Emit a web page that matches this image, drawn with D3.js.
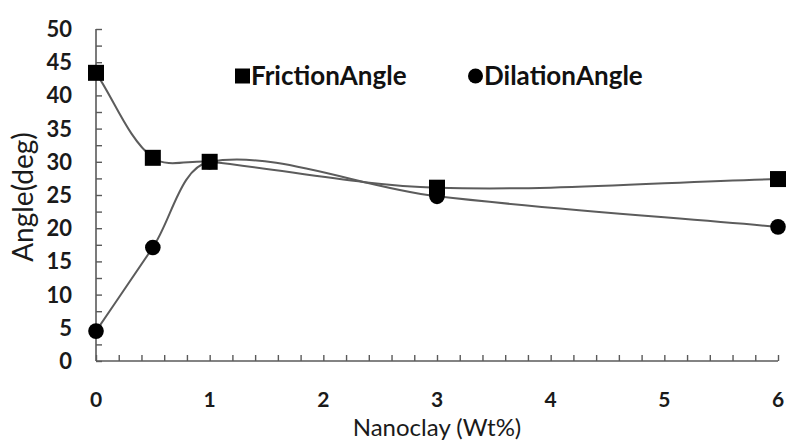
<!DOCTYPE html>
<html>
<head>
<meta charset="utf-8">
<script src="https://cdn.jsdelivr.net/npm/d3@7"></script>
<style>
  html, body { margin: 0; padding: 0; background: #fff; }
  svg { display: block; }
</style>
</head>
<body>
<svg id="chart" width="789" height="442"></svg>
<script>
const nanoclay = [0, 0.5, 1, 3, 6];
const frictionAngle = [43.4, 30.6, 30.0, 26.1, 27.4];
const dilationAngle = [4.5, 17.1, 30.0, 24.8, 20.2];
const seriesNames = ["FrictionAngle", "DilationAngle"];
const xTickValues = [0, 1, 2, 3, 4, 5, 6];
const yTickValues = [0, 5, 10, 15, 20, 25, 30, 35, 40, 45, 50];

const svg = d3.select("#chart");
const FONT = "Lato, 'Open Sans', sans-serif";
const x = d3.scaleLinear().domain([0, 6]).range([96, 778]);
const y = d3.scaleLinear().domain([0, 50]).range([361, 29]);
const axisColor = "#5a5a5a";

// Axes with inward ticks
const xAxis = d3.axisTop(x).tickValues(d3.range(0, 6.0001, 0.2)).tickSize(6).tickFormat("");
const gx = svg.append("g").attr("transform", `translate(0,${y(0)})`).call(xAxis);
const yAxis = d3.axisRight(y).tickValues(d3.range(0, 50.0001, 2.5)).tickSize(6).tickFormat("");
const gy = svg.append("g").attr("transform", `translate(${x(0)},0)`).call(yAxis);
[gx, gy].forEach(g => {
  g.select(".domain").attr("stroke", axisColor).attr("stroke-width", 1.6);
  g.selectAll(".tick line").attr("stroke", axisColor).attr("stroke-width", 1.4);
});
gx.select(".domain").attr("d", `M${x(0)},0H${x(6)}`);
gy.select(".domain").attr("d", `M0,${y(0)}V${y(50)}`);

// Tick labels
svg.append("g").selectAll("text").data(yTickValues).join("text")
  .attr("x", 72).attr("y", d => y(d)).attr("dy", "0.36em")
  .attr("text-anchor", "end")
  .attr("font-family", FONT).attr("font-weight", "bold").attr("font-size", 22)
  .attr("fill", "#1a1a1a").text(d => d);
svg.append("g").selectAll("text").data(xTickValues).join("text")
  .attr("x", d => x(d)).attr("y", 399).attr("dy", "0.36em")
  .attr("text-anchor", "middle")
  .attr("font-family", FONT).attr("font-weight", "bold").attr("font-size", 21)
  .attr("fill", "#1a1a1a").text(d => d);

// Axis titles
svg.append("text")
  .attr("transform", `translate(33,${(y(0) + y(50)) / 2 + 2}) rotate(-90)`)
  .attr("text-anchor", "middle")
  .attr("font-family", FONT).attr("font-size", 28).attr("fill", "#1a1a1a")
  .text("Angle(deg)");
svg.append("text")
  .attr("x", (x(0) + x(6)) / 2).attr("y", 436)
  .attr("text-anchor", "middle")
  .attr("font-family", FONT).attr("font-size", 24).attr("fill", "#1a1a1a")
  .text("Nanoclay (Wt%)");

// Excel-like smoothed path
function smoothPath(pts) {
  const n = pts.length;
  const d = (a, b) => Math.hypot(b[0] - a[0], b[1] - a[1]);
  let s = `M${pts[0][0]},${pts[0][1]}`;
  for (let i = 0; i < n - 1; i++) {
    const p0 = pts[Math.max(i - 1, 0)], p1 = pts[i], p2 = pts[i + 1], p3 = pts[Math.min(i + 2, n - 1)];
    const d01 = d(p0, p1), d12 = d(p1, p2), d23 = d(p2, p3);
    const f1 = d12 / (d01 + d12) / 3, f2 = d12 / (d12 + d23) / 3;
    const c1 = [p1[0] + (p2[0] - p0[0]) * f1, p1[1] + (p2[1] - p0[1]) * f1];
    const c2 = [p2[0] - (p3[0] - p1[0]) * f2, p2[1] - (p3[1] - p1[1]) * f2];
    s += `C${c1[0]},${c1[1]} ${c2[0]},${c2[1]} ${p2[0]},${p2[1]}`;
  }
  return s;
}

const series = [
  { name: seriesNames[0], values: frictionAngle, shape: "square" },
  { name: seriesNames[1], values: dilationAngle, shape: "circle" }
];

const lineG = svg.append("g");
series.forEach(s => {
  const pts = nanoclay.map((v, i) => [x(v), y(s.values[i])]);
  lineG.append("path").attr("d", smoothPath(pts))
    .attr("fill", "none").attr("stroke", "#5c5c5c").attr("stroke-width", 2);
});
const markG = svg.append("g");
series.forEach(s => {
  const sel = markG.append("g").selectAll("*").data(nanoclay.map((v, i) => [v, s.values[i]]));
  if (s.shape === "square") {
    sel.join("rect").attr("x", d => x(d[0]) - 8).attr("y", d => y(d[1]) - 8)
      .attr("width", 16).attr("height", 16).attr("fill", "#000");
  } else {
    sel.join("circle").attr("cx", d => x(d[0])).attr("cy", d => y(d[1])).attr("r", 7.8).attr("fill", "#000");
  }
});

// Legend
const legend = [
  { name: seriesNames[0], shape: "square", x: 235 },
  { name: seriesNames[1], shape: "circle", x: 468 }
];
const ly = 76;
legend.forEach(l => {
  if (l.shape === "square") {
    svg.append("rect").attr("x", l.x).attr("y", ly - 7.5).attr("width", 15).attr("height", 15).attr("fill", "#000");
  } else {
    svg.append("circle").attr("cx", l.x + 7.5).attr("cy", ly).attr("r", 7.5).attr("fill", "#000");
  }
  svg.append("text").attr("x", l.x + 16).attr("y", ly).attr("dy", "0.36em")
    .attr("font-family", FONT).attr("font-weight", "bold").attr("font-size", 26)
    .attr("fill", "#111").text(l.name);
});
</script>
</body>
</html>
